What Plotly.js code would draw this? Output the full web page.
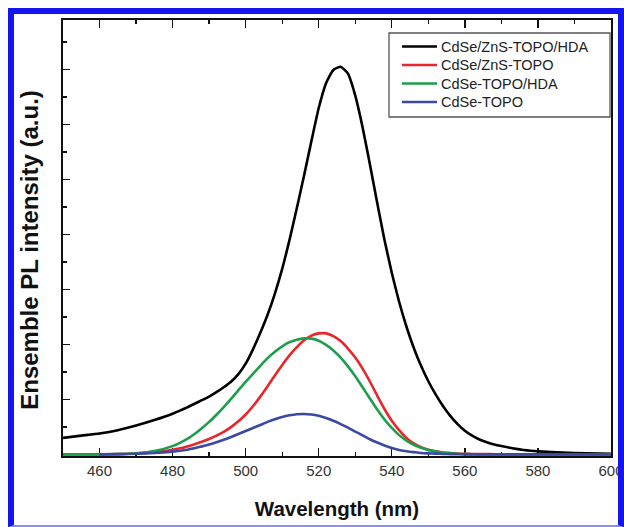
<!DOCTYPE html>
<html>
<head>
<meta charset="utf-8">
<script src="https://cdn.plot.ly/plotly-3.0.1.min.js"></script>
<style>
  html, body { margin: 0; padding: 0; background: #ffffff; }
  #wrap { position: relative; width: 624px; height: 527px; overflow: hidden; }
  #chart { position: absolute; left: 0; top: 0; width: 624px; height: 527px; }
  #frame { position: absolute; left: 8px; top: 8px; width: 604px; height: 511px;
           border-left: 6px solid #1414f0; border-top: 6px solid #1414f0;
           border-right: 6px solid #1414f0; border-bottom: 2px solid #8c8cff;
           pointer-events: none; }
</style>
</head>
<body>
<div id="wrap">
  <div id="chart"></div>
  <div id="frame"></div>
</div>
<script>
// Wavelength grid (nm)
const wavelength = [450,455,460,465,470,475,
  480,482,484,486,488,490,492,494,496,498,500,502,504,506,508,510,512,514,516,518,520,
  522,524,526,528,530,532,534,536,538,540,542,544,546,548,550,552,554,556,558,560,
  562,564,566,568,570,572,574,576,578,580,590,600];

// Ensemble PL intensity (a.u.)
const cdseZnsTopoHda = [0.6,0.68,0.76,0.88,1.05,1.25,
  1.48,1.59,1.71,1.84,1.97,2.1,2.26,2.44,2.64,2.92,3.3,3.82,4.42,5.08,5.85,6.75,7.8,8.95,10.15,11.4,12.6,
  13.5,13.98,14.1,13.85,13.05,11.9,10.55,9.15,7.8,6.6,5.55,4.65,3.88,3.22,2.66,2.18,1.76,1.4,1.1,0.86,
  0.68,0.54,0.44,0.36,0.3,0.25,0.2,0.16,0.13,0.11,0.05,0.02];
const cdseZnsTopo = [0,0,0,0.01,0.03,0.08,
  0.17,0.22,0.29,0.37,0.46,0.56,0.68,0.82,0.99,1.2,1.45,1.75,2.1,2.48,2.87,3.25,3.6,3.9,4.15,4.32,4.4,
  4.4,4.3,4.12,3.85,3.52,3.12,2.65,2.14,1.65,1.22,0.88,0.6,0.4,0.26,0.17,0.11,0.07,0.045,0.03,0.02,
  0.015,0.01,0.008,0.005,0.003,0,0,0,0,0,0,0];
const cdseTopoHda = [0,0,0,0.01,0.04,0.12,
  0.3,0.42,0.56,0.74,0.95,1.18,1.44,1.72,2.02,2.33,2.64,2.93,3.22,3.5,3.73,3.93,4.08,4.17,4.22,4.21,4.13,
  3.98,3.78,3.52,3.2,2.84,2.44,2.03,1.63,1.27,0.96,0.7,0.5,0.35,0.24,0.16,0.1,0.06,0.04,0.02,0.01,
  0.005,0,0,0,0,0,0,0,0,0,0,0];
const cdseTopo = [null,null,0,0.01,0.02,0.05,
  0.1,0.13,0.17,0.22,0.29,0.36,0.44,0.53,0.63,0.74,0.85,0.96,1.07,1.18,1.28,1.36,1.42,1.46,1.47,1.45,1.4,
  1.32,1.22,1.1,0.97,0.83,0.69,0.55,0.43,0.32,0.23,0.16,0.11,0.08,0.05,0.035,0.025,0.015,0.01,0.005,0,
  0,0,0,0,0,0,0,0,0,0,0,0];

const seriesNames  = ["CdSe/ZnS-TOPO/HDA", "CdSe/ZnS-TOPO", "CdSe-TOPO/HDA", "CdSe-TOPO"];
const seriesValues = [cdseZnsTopoHda, cdseZnsTopo, cdseTopoHda, cdseTopo];
const seriesColors = ["#000000", "#e8262c", "#1c9e4a", "#3a49a6"];

const xTickVals = [460,480,500,520,540,560,580,600];
const xTickText = ["460","480","500","520","540","560","580","600"];

const xTitle = "Wavelength (nm)";
const yTitle = "Ensemble PL intensity (a.u.)";

// --- layout geometry (pixels of the 624x527 page) ---
const M = { l: 63, r: 13, t: 20, b: 71 };
const W = 624, H = 527;
const plotW = W - M.l - M.r, plotH = H - M.t - M.b;
const px2x = px => (px - M.l) / plotW;
const py2y = py => (H - M.b - py) / plotH;

const traces = seriesNames.map((name, i) => ({
  type: "scatter",
  mode: "lines",
  name: name,
  x: wavelength,
  y: seriesValues[i],
  line: { color: seriesColors[i], width: 2.6, shape: "spline", smoothing: 0.5 },
  connectgaps: false,
  showlegend: false
}));

// Legend box drawn as a framed key (box 389..610 x 33..117 px)
const legendShapes = [{
  type: "rect", xref: "paper", yref: "paper", layer: "above",
  x0: px2x(389), x1: px2x(610), y0: py2y(117), y1: py2y(33),
  fillcolor: "#ffffff", line: { color: "#555555", width: 1.3 }
}];
const legendAnnots = [];
const rowY = [46.5, 65, 83.5, 102];
seriesNames.forEach((name, i) => {
  legendShapes.push({
    type: "line", xref: "paper", yref: "paper", layer: "above",
    x0: px2x(402), x1: px2x(437), y0: py2y(rowY[i]), y1: py2y(rowY[i]),
    line: { color: seriesColors[i], width: 2.6 }
  });
  legendAnnots.push({
    text: name, xref: "paper", yref: "paper",
    x: px2x(439), y: py2y(rowY[i]), xanchor: "left", yanchor: "middle",
    showarrow: false,
    font: { size: 14.5, color: "#222222", family: "Liberation Sans, Arial, sans-serif" }
  });
});

const layout = {
  width: W,
  height: H,
  margin: M,
  paper_bgcolor: "#ffffff",
  plot_bgcolor: "#ffffff",
  font: { family: "Liberation Sans, Arial, sans-serif", color: "#222222" },
  showlegend: false,
  xaxis: {
    range: [450, 600],
    tickmode: "array", tickvals: xTickVals, ticktext: xTickText,
    ticks: "inside", ticklen: 8, tickwidth: 1.3, tickcolor: "#111111",
    minor: { dtick: 10, tick0: 450, ticks: "inside", ticklen: 4, tickwidth: 1.3, tickcolor: "#111111", showgrid: false },
    showline: true, linecolor: "#111111", linewidth: 1.6, mirror: "ticks",
    showgrid: false, zeroline: false,
    tickfont: { size: 15, color: "#333333" },
    layer: "below traces",
    title: { text: "<b>" + xTitle + "</b>", font: { size: 20.5, color: "#111111" }, standoff: 24 }
  },
  yaxis: {
    range: [-0.06, 15.8],
    tick0: 0, dtick: 2,
    ticks: "inside", ticklen: 7, tickwidth: 1.3, tickcolor: "#111111",
    minor: { dtick: 1, tick0: 0, ticks: "inside", ticklen: 4, tickwidth: 1.3, tickcolor: "#111111", showgrid: false },
    showticklabels: false,
    showline: true, linecolor: "#111111", linewidth: 1.6, mirror: true,
    showgrid: false, zeroline: false,
    layer: "below traces"
  },
  shapes: legendShapes,
  annotations: [{
    text: "<b>" + yTitle + "</b>",
    xref: "paper", yref: "paper", x: 0, y: 0.473,
    xanchor: "center", yanchor: "middle", xshift: -33,
    textangle: -90, showarrow: false,
    font: { size: 24, color: "#111111", family: "Liberation Sans, Arial, sans-serif" }
  }].concat(legendAnnots)
};

Plotly.newPlot("chart", traces, layout, { staticPlot: true, displayModeBar: false });
</script>
</body>
</html>
